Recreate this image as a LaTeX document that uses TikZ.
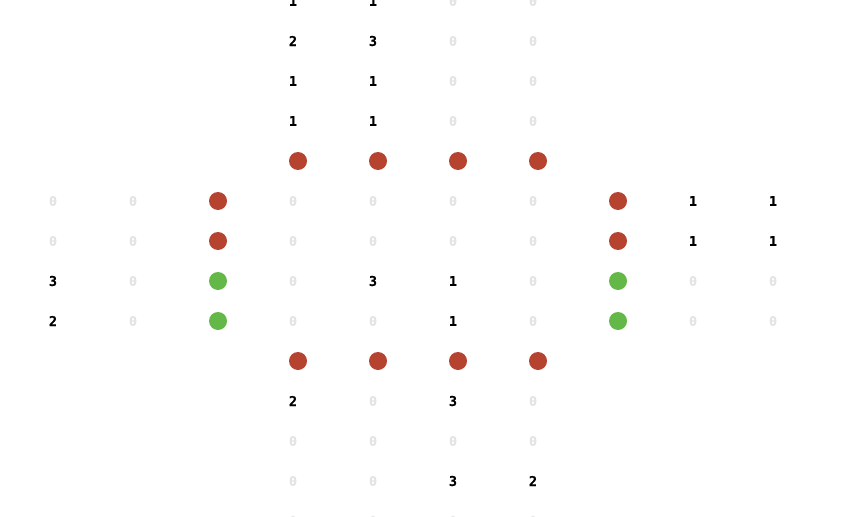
\documentclass[tikz,border=0pt]{standalone}
\usepackage{fontspec}
\newfontfamily\gridfont{DejaVu Sans Mono Bold}[FakeBold=0.6]
\definecolor{dotred}{HTML}{B5432F}
\definecolor{dotgreen}{HTML}{63B847}
\definecolor{zerogray}{HTML}{E4E4E4}
\tikzset{
  num/.style={inner sep=0pt, font=\gridfont\fontsize{13.5}{13.5}\selectfont, text=black},
  zero/.style={num, text=zerogray},
  reddot/.style={circle, fill=dotred, minimum size=18pt, inner sep=0pt},
  greendot/.style={circle, fill=dotgreen, minimum size=18pt, inner sep=0pt}
}
\begin{document}
\begin{tikzpicture}[x=1pt,y=-1pt]
\useasboundingbox (0,0) rectangle (842,516);
% text cell position: x = 53 + 80*col, y = 1 + 40*row
\newcommand{\cellnum}[4]{\node[#1] (n-#2-#3) at ({53+80*#3},{1+40*#2}) {#4};}
\newcommand{\celldot}[3]{\node[#1] (d-#2-#3) at ({58+80*#3},{1+40*#2}) {};}
% top block rows 0-3, cols 3-6
\cellnum{num}{0}{3}{1}\cellnum{num}{0}{4}{1}\cellnum{zero}{0}{5}{0}\cellnum{zero}{0}{6}{0}
\cellnum{num}{1}{3}{2}\cellnum{num}{1}{4}{3}\cellnum{zero}{1}{5}{0}\cellnum{zero}{1}{6}{0}
\cellnum{num}{2}{3}{1}\cellnum{num}{2}{4}{1}\cellnum{zero}{2}{5}{0}\cellnum{zero}{2}{6}{0}
\cellnum{num}{3}{3}{1}\cellnum{num}{3}{4}{1}\cellnum{zero}{3}{5}{0}\cellnum{zero}{3}{6}{0}
% row 4 dots
\celldot{reddot}{4}{3}\celldot{reddot}{4}{4}\celldot{reddot}{4}{5}\celldot{reddot}{4}{6}
% row 5
\cellnum{zero}{5}{0}{0}\cellnum{zero}{5}{1}{0}\celldot{reddot}{5}{2}
\cellnum{zero}{5}{3}{0}\cellnum{zero}{5}{4}{0}\cellnum{zero}{5}{5}{0}\cellnum{zero}{5}{6}{0}
\celldot{reddot}{5}{7}\cellnum{num}{5}{8}{1}\cellnum{num}{5}{9}{1}
% row 6
\cellnum{zero}{6}{0}{0}\cellnum{zero}{6}{1}{0}\celldot{reddot}{6}{2}
\cellnum{zero}{6}{3}{0}\cellnum{zero}{6}{4}{0}\cellnum{zero}{6}{5}{0}\cellnum{zero}{6}{6}{0}
\celldot{reddot}{6}{7}\cellnum{num}{6}{8}{1}\cellnum{num}{6}{9}{1}
% row 7
\cellnum{num}{7}{0}{3}\cellnum{zero}{7}{1}{0}\celldot{greendot}{7}{2}
\cellnum{zero}{7}{3}{0}\cellnum{num}{7}{4}{3}\cellnum{num}{7}{5}{1}\cellnum{zero}{7}{6}{0}
\celldot{greendot}{7}{7}\cellnum{zero}{7}{8}{0}\cellnum{zero}{7}{9}{0}
% row 8
\cellnum{num}{8}{0}{2}\cellnum{zero}{8}{1}{0}\celldot{greendot}{8}{2}
\cellnum{zero}{8}{3}{0}\cellnum{zero}{8}{4}{0}\cellnum{num}{8}{5}{1}\cellnum{zero}{8}{6}{0}
\celldot{greendot}{8}{7}\cellnum{zero}{8}{8}{0}\cellnum{zero}{8}{9}{0}
% row 9 dots
\celldot{reddot}{9}{3}\celldot{reddot}{9}{4}\celldot{reddot}{9}{5}\celldot{reddot}{9}{6}
% bottom block rows 10-13
\cellnum{num}{10}{3}{2}\cellnum{zero}{10}{4}{0}\cellnum{num}{10}{5}{3}\cellnum{zero}{10}{6}{0}
\cellnum{zero}{11}{3}{0}\cellnum{zero}{11}{4}{0}\cellnum{zero}{11}{5}{0}\cellnum{zero}{11}{6}{0}
\cellnum{zero}{12}{3}{0}\cellnum{zero}{12}{4}{0}\cellnum{num}{12}{5}{3}\cellnum{num}{12}{6}{2}
\cellnum{zero}{13}{3}{0}\cellnum{zero}{13}{4}{0}\cellnum{zero}{13}{5}{0}\cellnum{zero}{13}{6}{0}
\end{tikzpicture}
\end{document}
